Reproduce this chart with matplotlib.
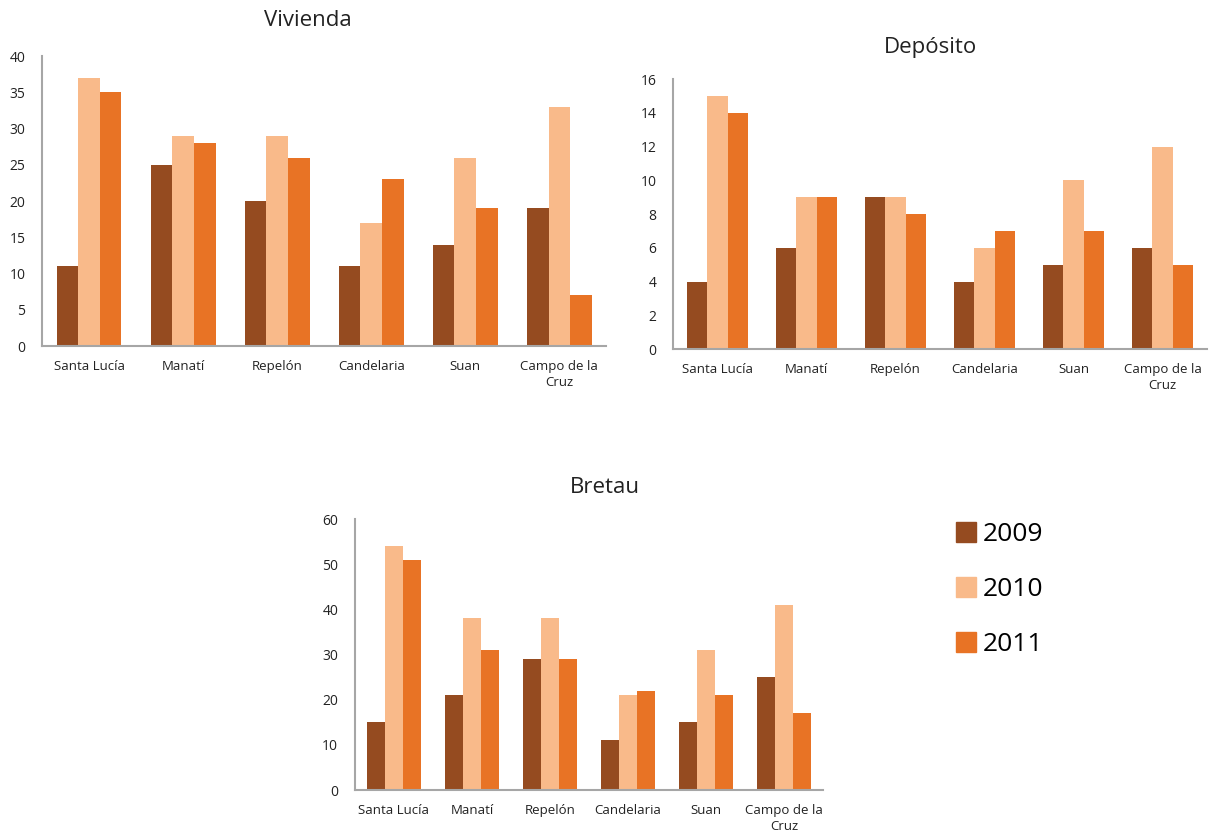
import matplotlib.pyplot as plt
from matplotlib.patches import Patch
import numpy as np

plt.rcParams['font.family'] = ['Open Sans', 'DejaVu Sans']

municipios = ['Santa Lucía', 'Manatí', 'Repelón', 'Candelaria', 'Suan', 'Campo de la\nCruz']
years = ['2009', '2010', '2011']
colors = ['#954B20', '#F9BA8A', '#E87325']

vivienda_2009 = [11, 25, 20, 11, 14, 19]
vivienda_2010 = [37, 29, 29, 17, 26, 33]
vivienda_2011 = [35, 28, 26, 23, 19, 7]

deposito_2009 = [4, 6, 9, 4, 5, 6]
deposito_2010 = [15, 9, 9, 6, 10, 12]
deposito_2011 = [14, 9, 8, 7, 7, 5]

bretau_2009 = [15, 21, 29, 11, 15, 25]
bretau_2010 = [54, 38, 38, 21, 31, 41]
bretau_2011 = [51, 31, 29, 22, 21, 17]

fig = plt.figure(figsize=(12.11, 8.33), dpi=100)


def panel(rect, title, series, ymax, step, title_xy):
    ax = fig.add_axes(rect)
    x = np.arange(len(municipios))
    w = 0.23
    for i, (vals, c) in enumerate(zip(series, colors)):
        ax.bar(x + (i - 1) * w, vals, width=w, color=c, edgecolor='none')
    ax.set_xlim(-0.5, len(municipios) - 0.5)
    ax.set_ylim(0, ymax)
    ax.set_yticks(np.arange(0, ymax + 1, step))
    ax.set_xticks(x)
    ax.set_xticklabels(municipios, fontsize=9.5, color='#222222', linespacing=1.3)
    ax.tick_params(axis='y', labelsize=10, colors='#222222', length=0, pad=12)
    ax.tick_params(axis='x', length=0, pad=10)
    for s in ['top', 'right']:
        ax.spines[s].set_visible(False)
    for s in ['left', 'bottom']:
        ax.spines[s].set_color('#a6a6a6')
        ax.spines[s].set_linewidth(1.5)
    # titles sit a bit off-centre in the original, so place them on the figure
    fig.text(title_xy[0], title_xy[1], title, fontsize=16, color='#222222',
             ha='center', va='center')
    return ax


panel([0.0347, 0.5846, 0.466, 0.348], 'Vivienda',
      [vivienda_2009, vivienda_2010, vivienda_2011], 40, 5, (0.254, 0.975))
panel([0.5557, 0.581, 0.441, 0.324], 'Depósito',
      [deposito_2009, deposito_2010, deposito_2011], 16, 2, (0.768, 0.943))
panel([0.2931, 0.0516, 0.3865, 0.3253], 'Bretau',
      [bretau_2009, bretau_2010, bretau_2011], 60, 10, (0.4995, 0.415))

handles = [Patch(color=c, label=y) for c, y in zip(colors, years)]
fig.legend(handles=handles, loc='upper left', bbox_to_anchor=(0.770, 0.402),
           frameon=False, fontsize=19, handlelength=0.75, handleheight=0.8,
           handletextpad=0.25, labelspacing=1.12)

fig.savefig('out.png', dpi=100)
